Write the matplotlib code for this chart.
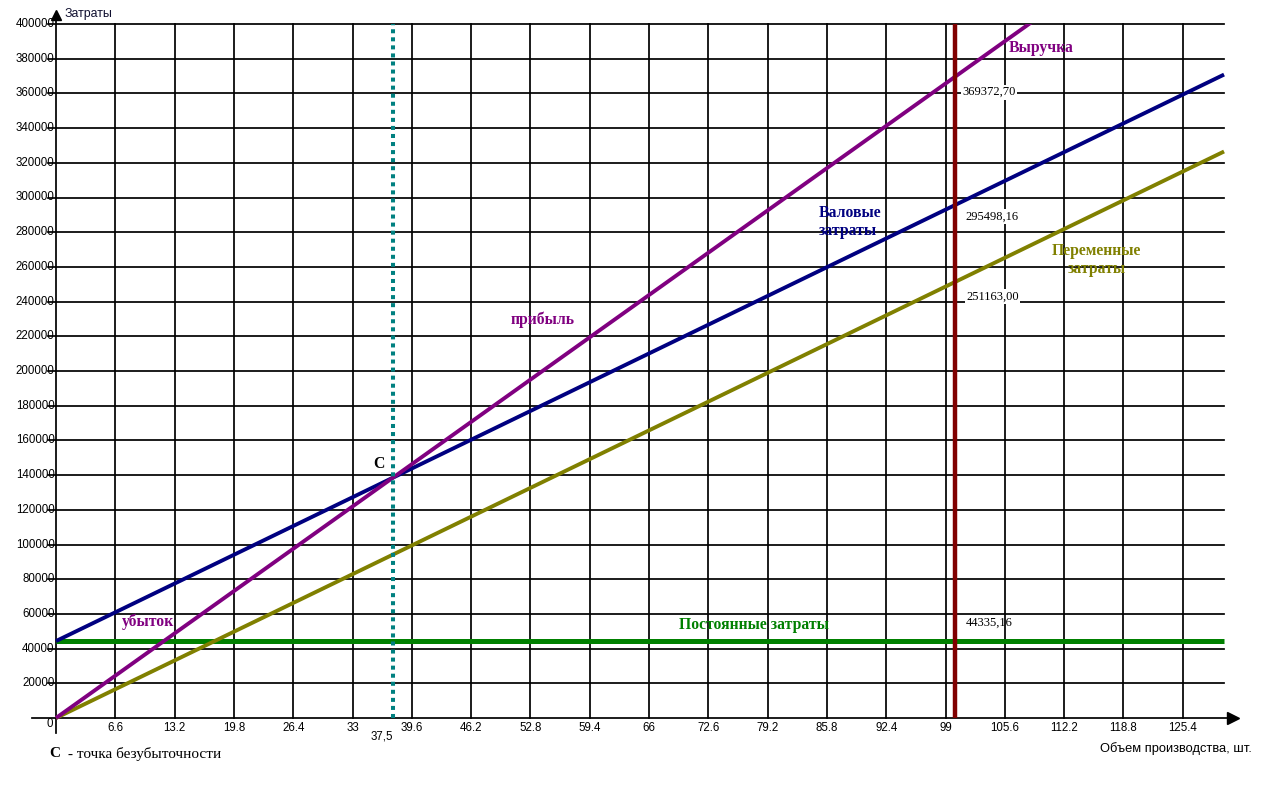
import matplotlib
matplotlib.use("Agg")
import matplotlib.pyplot as plt
from matplotlib.patches import Rectangle

# ---- data ----
volume = [0, 37.5, 100, 130]
revenue = [0, 138515, 369372.70, 480185]
variable_costs = [0, 94186, 251163.00, 326512]
fixed_costs = [44335.16, 44335.16, 44335.16, 44335.16]
total_costs = [44335.16, 138521, 295498.16, 370847]
break_even_x = 37.5
plan_x = 100
x_ticks = [6.6, 13.2, 19.8, 26.4, 33, 39.6, 46.2, 52.8, 59.4, 66, 72.6, 79.2,
           85.8, 92.4, 99, 105.6, 112.2, 118.8, 125.4]
x_tick_labels = ["6.6", "13.2", "19.8", "26.4", "33", "39.6", "46.2", "52.8", "59.4",
                 "66", "72.6", "79.2", "85.8", "92.4", "99", "105.6", "112.2",
                 "118.8", "125.4"]
y_ticks = [20000, 40000, 60000, 80000, 100000, 120000, 140000, 160000, 180000,
           200000, 220000, 240000, 260000, 280000, 300000, 320000, 340000,
           360000, 380000, 400000]
value_labels = ["369372,70", "295498,16", "251163,00", "44335,16"]

W, H = 1278, 785
fig = plt.figure(figsize=(W / 100, H / 100), dpi=100)
ax = fig.add_axes([0, 0, 1, 1])
ax.set_axis_off()

# pixel mapping: x=0 at px 56, 8.985 px/unit ; y=0 at px 718
px_x = 8.985
px_y = 694 / 400000
x0, y0 = 56, 718
ax.set_xlim(-x0 / px_x, (W - x0) / px_x)
ax.set_ylim(-(H - y0) / px_y, y0 / px_y)

XMAX, YMAX = 130, 400000
grid_kw = dict(color="black", lw=1.25, zorder=1)
tick_x_ext = -8 / px_x
for t in y_ticks:
    ax.plot([tick_x_ext, XMAX], [t, t], **grid_kw)
for t in x_ticks:
    ax.plot([t, t], [0, YMAX], **grid_kw)

# axes
ax.plot([-24 / px_x, 130.6], [0, 0], color="black", lw=1.25, zorder=2)
ax.plot([0, 0], [-15 / px_y, 403000], color="black", lw=1.25, zorder=2)
ax.plot([131.0], [0], marker=">", color="black", ms=8, zorder=3, clip_on=False)
ax.plot([0], [405000], marker="^", color="black", ms=7, zorder=3, clip_on=False)

sans = "Liberation Sans"
serif = "Liberation Serif"
fs_tick = 8.3
for t, lab in zip(x_ticks, x_tick_labels):
    ax.text(t, -5800, lab, ha="center", va="center", fontsize=fs_tick, family=sans)
ax.text(-0.3, -3500, "0", ha="right", va="center", fontsize=fs_tick, family=sans)
for t in y_ticks:
    ax.text(-0.15, t, str(t), ha="right", va="center", fontsize=fs_tick, family=sans,
            zorder=0)

ax.text(1.0, 405800, "Затраты", ha="left", va="center", fontsize=fs_tick + 0.6,
        family=sans, color="#101030")
ax.text(124.7, -17870, "Объем производства, шт.", ha="center", va="center",
        fontsize=9.3, family=sans)
ax.text(36.3, -10950, "37,5", ha="center", va="center", fontsize=fs_tick,
        family=sans)

clip = Rectangle((-3, -5000), 140, YMAX + 5000, transform=ax.transData)

def line(y, color, lw, z=4):
    ln, = ax.plot(volume, y, color=color, lw=lw, solid_capstyle="butt", zorder=z)
    ln.set_clip_path(clip)

line(fixed_costs, "#008000", 3.6, 4)
line(variable_costs, "#808000", 2.8, 5)
line(total_costs, "#000080", 2.8, 6)
line(revenue, "#800080", 2.8, 7)

ax.plot([break_even_x, break_even_x], [0, YMAX], color="#008080", lw=2.9,
        linestyle=(0, (1, 1)), dash_capstyle="butt", zorder=8)
ax.plot([plan_x, plan_x], [0, YMAX], color="#800000", lw=3.2, zorder=8,
        solid_capstyle="butt")

# value labels with white background
bb = dict(boxstyle="square,pad=0.12", facecolor="white", edgecolor="none")
val_pos = [(100.9, 360800), (101.2, 288800), (101.3, 242700), (101.3, 54800)]
for (xx, yy), lab in zip(val_pos, value_labels):
    ax.text(xx, yy, lab, ha="left", va="center", fontsize=9, family=serif,
            bbox=bb if lab != "44335,16" else None, zorder=9)

# series labels
lab_fs = 11.3
ax.text(109.6, 386300, "Выручка", ha="center", va="center", fontsize=lab_fs,
        family=serif, weight="bold", color="#800080", zorder=10)
ax.text(84.9, 285800, "Валовые\nзатраты", ha="left", va="center", fontsize=lab_fs,
        family=serif, weight="bold", color="#000080", linespacing=1.15, zorder=10)
ax.text(115.8, 264000, "Переменные\nзатраты", ha="center", va="center",
        fontsize=lab_fs, family=serif, weight="bold", color="#808000",
        linespacing=1.15, zorder=10)
ax.text(54.2, 229400, "прибыль", ha="center", va="center", fontsize=lab_fs,
        family=serif, weight="bold", color="#800080", zorder=10)
ax.text(35.9, 146500, "С", ha="center", va="center", fontsize=lab_fs,
        family=serif, weight="bold", color="black", zorder=10)
ax.text(10.2, 55300, "убыток", ha="center", va="center", fontsize=lab_fs,
        family=serif, weight="bold", color="#800080", zorder=10)
ax.text(77.7, 53600, "Постоянные затраты", ha="center", va="center",
        fontsize=lab_fs, family=serif, weight="bold", color="#008000", zorder=10)

ax.text(-0.7, -20700, "С", ha="left", va="center", fontsize=11,
        family=serif, weight="bold")
ax.text(0.9, -20700, " - точка безубыточности", ha="left", va="center",
        fontsize=11, family=serif)

fig.savefig("out.png", dpi=100)
